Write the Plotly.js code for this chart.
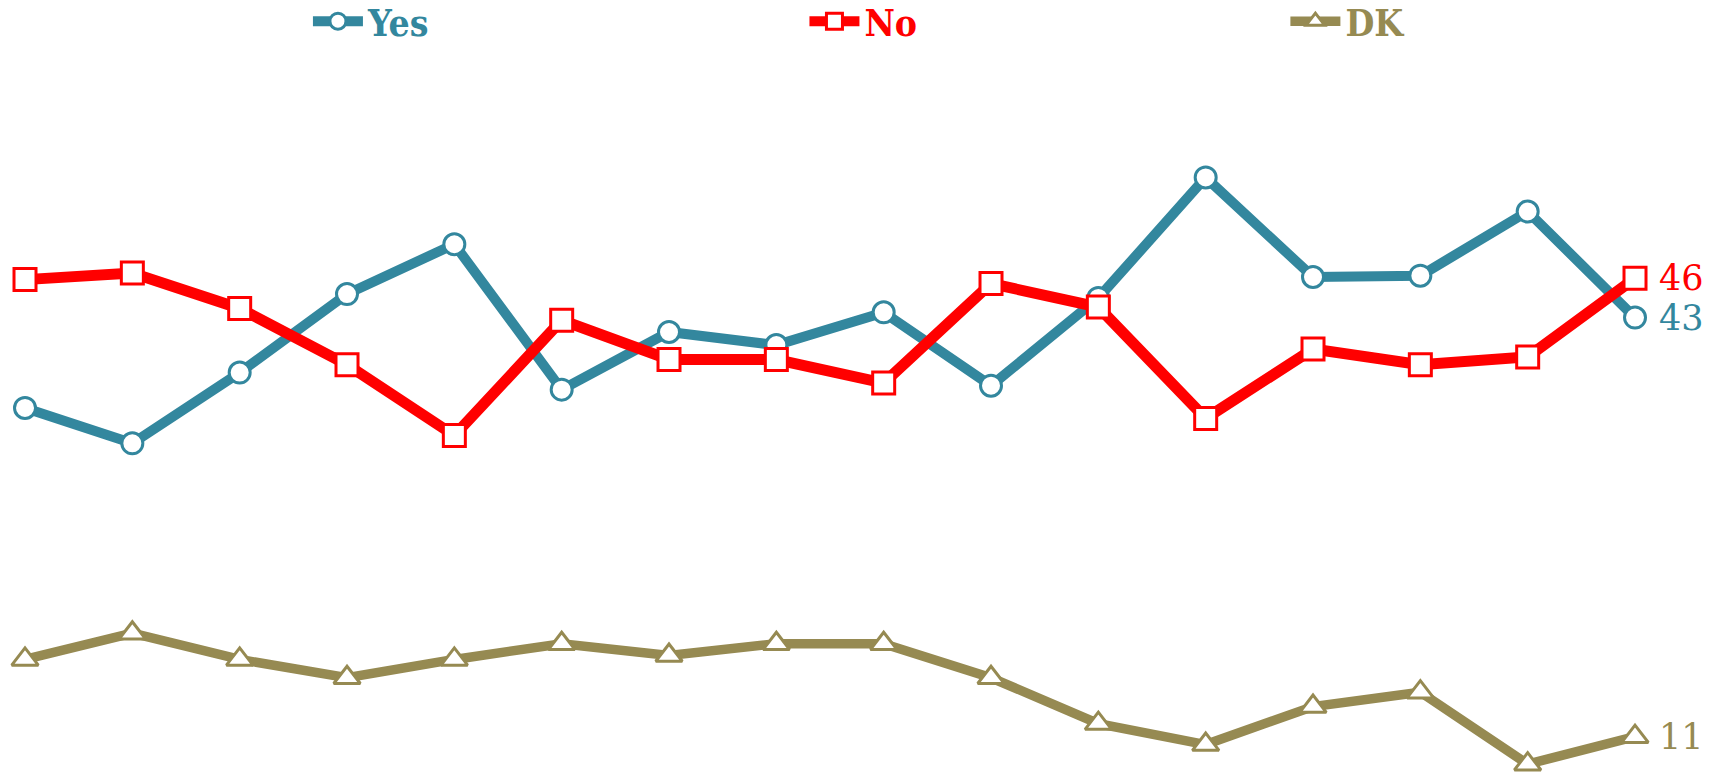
<!DOCTYPE html>
<html>
<head>
<meta charset="utf-8">
<script src="https://cdn.plot.ly/plotly-3.0.1.min.js"></script>
<style>
  html, body { margin: 0; padding: 0; background: #ffffff; }
  #chart { width: 1730px; height: 779px; }
  .legendtext { font-stretch: condensed; }
</style>
</head>
<body>
<div id="chart"></div>
<script>
// Poll waves (no axis labels shown in the original) and series values
const waves = [0, 1, 2, 3, 4, 5, 6, 7, 8, 9, 10, 11, 12, 13, 14, 15];
const yesValues = [36.1, 33.4, 38.8, 44.8, 48.6, 37.5, 41.9, 40.9, 43.4, 37.8, 44.5, 53.7, 46.1, 46.2, 51.1, 43];
const noValues  = [45.9, 46.4, 43.7, 39.4, 34.0, 42.8, 39.8, 39.8, 38.0, 45.6, 43.8, 35.3, 40.6, 39.4, 40.0, 46];
const dkValues  = [16.9, 18.9, 16.9, 15.5, 16.9, 18.1, 17.2, 18.1, 18.1, 15.5, 12.0, 10.4, 13.3, 14.4, 8.9, 11];
const seriesNames = ["Yes", "No", "DK"];
const endLabels = ["43", "46", "11"];

const colors = { Yes: "#33879E", No: "#FF0000", DK: "#968A52" };
const serif = "'DejaVu Serif', 'Liberation Serif', serif";
const serifCond = "'DejaVu Serif Condensed', 'DejaVu Serif', serif";

const traces = [
  {
    x: waves, y: yesValues, name: seriesNames[0], type: "scatter", mode: "lines+markers",
    line: { color: colors.Yes, width: 10 },
    marker: { symbol: "circle", size: 21, color: "#ffffff", line: { color: colors.Yes, width: 3 } },
    cliponaxis: false, legend: "legend"
  },
  {
    x: waves, y: noValues, name: seriesNames[1], type: "scatter", mode: "lines+markers",
    line: { color: colors.No, width: 11 },
    marker: { symbol: "square", size: 22, color: "#ffffff", line: { color: colors.No, width: 3 } },
    cliponaxis: false, legend: "legend2"
  },
  {
    x: waves, y: dkValues, name: seriesNames[2], type: "scatter", mode: "lines+markers",
    line: { color: colors.DK, width: 9.5 },
    marker: { symbol: "triangle-up", size: 23, color: "#ffffff", line: { color: colors.DK, width: 3 } },
    cliponaxis: false, legend: "legend3"
  }
];

const last = waves.length - 1;
const annotations = [
  { x: waves[last], y: yesValues[last], text: endLabels[0], color: colors.Yes },
  { x: waves[last], y: noValues[last], text: endLabels[1], color: colors.No },
  { x: waves[last], y: dkValues[last], text: endLabels[2], color: colors.DK }
].map(a => ({
  x: a.x, y: a.y, xref: "x", yref: "y", text: a.text, showarrow: false,
  xanchor: "left", yanchor: "middle", xshift: 22,
  font: { family: serif, size: 35, color: a.color }
}));

function legendAt(xPaper, color) {
  return {
    orientation: "h", x: xPaper, xanchor: "left", y: 1.012, yanchor: "top",
    itemwidth: 50,
    font: { family: serifCond, size: 37, weight: "bold", color: color },
    itemsizing: "trace", bgcolor: "rgba(0,0,0,0)"
  };
}

const layout = {
  width: 1730, height: 779,
  margin: { l: 0, r: 0, t: 0, b: 0, pad: 0, autoexpand: false },
  paper_bgcolor: "#ffffff", plot_bgcolor: "#ffffff",
  showlegend: true,
  legend: legendAt(0.178, colors.Yes),
  legend2: legendAt(0.465, colors.No),
  legend3: legendAt(0.743, colors.DK),
  xaxis: { range: [-0.233, 15.885], visible: false, showgrid: false, zeroline: false, fixedrange: true },
  yaxis: { range: [7.77, 67.25], visible: false, showgrid: false, zeroline: false, fixedrange: true },
  annotations: annotations
};

Plotly.newPlot("chart", traces, layout, { displayModeBar: false, staticPlot: true });
</script>
</body>
</html>
